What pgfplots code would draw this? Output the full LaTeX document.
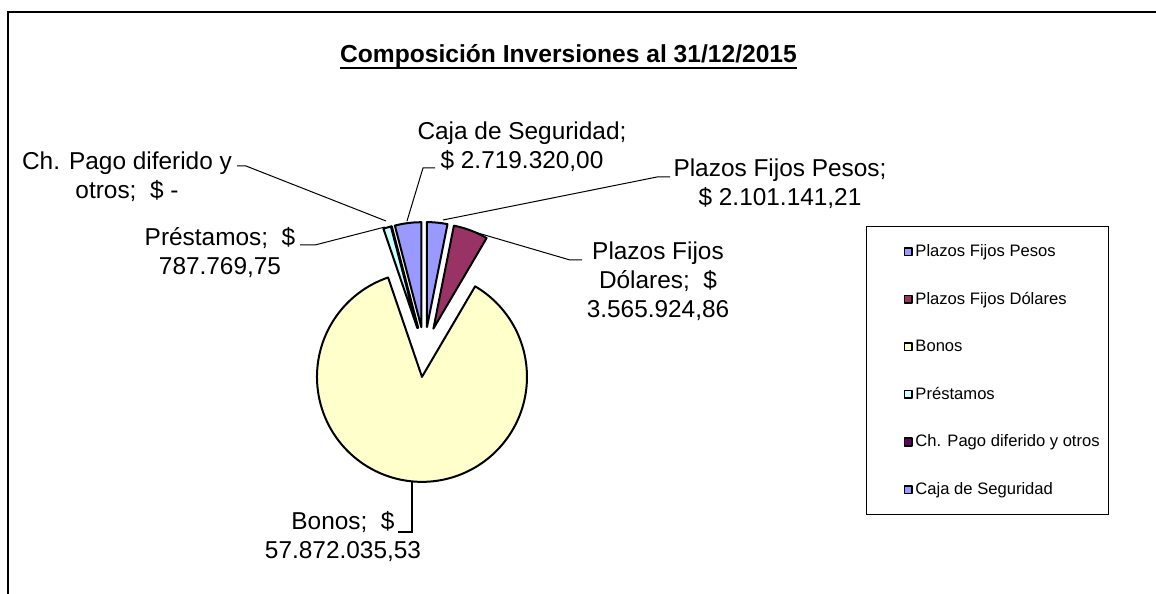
\documentclass[border=0pt]{standalone}
\usepackage{pgfplots}
\pgfplotsset{compat=1.18}
\usepackage{pgfplotstable}
\usepackage{fontspec}
\setmainfont{Liberation Sans}

\definecolor{pfp}{HTML}{9999FF}
\definecolor{pfd}{HTML}{993366}
\definecolor{bonos}{HTML}{FFFFCC}
\definecolor{prest}{HTML}{CCFFFF}
\definecolor{chp}{HTML}{660066}

% values in millions of pesos
\pgfplotstableread{
idx value
0 2.10114121
1 3.56592486
2 57.87203553
3 0.78776975
4 0
5 2.71932000
}\piedata

\newcommand\labfont{\fontsize{12.2bp}{14.5bp}\selectfont}
\newcommand\ulbox[1]{\setbox0\hbox{#1}\rlap{\rule[-3.2bp]{\wd0}{1.4bp}}\box0}

\def\R{105}
\def\D{25}
\def\CX{424.5}
\def\CY{242}

\newcommand\drawslice[3]{%
  \pgfmathsetmacro\smid{(#1+#2)/2}%
  \pgfmathsetmacro\ox{\CX+\D*cos(\smid)}%
  \pgfmathsetmacro\oy{\CY+\D*sin(\smid)}%
  \pgfmathsetmacro\lo{#2}%
  \pgfmathsetmacro\hi{#1+0.01}%
  \pgfmathtruncatemacro\ns{max(2,abs(#1-#2)/2)}%
  \edef\temp{\noexpand\addplot[draw=black, line width=1bp, line join=round, fill=#3, domain=\lo:\hi, samples=\ns]
    ({\ox+\R*cos(x)},{\oy+\R*sin(x)}) -- (axis cs:\ox,\oy) -- cycle;}%
  \temp
}

\begin{document}
\begin{tikzpicture}
\pgfplotstablegetelem{0}{value}\of\piedata \edef\vA{\pgfplotsretval}
\pgfplotstablegetelem{1}{value}\of\piedata \edef\vB{\pgfplotsretval}
\pgfplotstablegetelem{2}{value}\of\piedata \edef\vC{\pgfplotsretval}
\pgfplotstablegetelem{3}{value}\of\piedata \edef\vD{\pgfplotsretval}
\pgfplotstablegetelem{4}{value}\of\piedata \edef\vE{\pgfplotsretval}
\pgfplotstablegetelem{5}{value}\of\piedata \edef\vF{\pgfplotsretval}
\pgfmathsetmacro\T{\vA+\vB+\vC+\vD+\vE+\vF}
\pgfmathsetmacro\aA{90}
\pgfmathsetmacro\aB{\aA-(\vA/\T)*360}
\pgfmathsetmacro\aC{\aB-(\vB/\T)*360}
\pgfmathsetmacro\aD{\aC-(\vC/\T)*360}
\pgfmathsetmacro\aE{\aD-(\vD/\T)*360}
\pgfmathsetmacro\aF{\aE-(\vE/\T)*360}
\pgfmathsetmacro\aG{\aF-(\vF/\T)*360}
\begin{axis}[name=ax,
  width=578bp, height=297bp, scale only axis,
  xmin=0, xmax=1156, ymin=0, ymax=594,
  hide axis, clip=false,
  legend style={
    at={(axis cs:866,368)}, anchor=north west,
    draw=black, line width=0.6bp, fill=white,
    inner xsep=3bp, inner ysep=8.5bp,
    row sep=15.8bp,
    font=\fontsize{8.3bp}{10bp}\selectfont,
    cells={anchor=west},
    nodes={inner xsep=1.25bp, inner ysep=0pt, text height=6.5bp, text depth=1.5bp},
  },
  legend image code/.code={
    \path (-15.5bp,0bp);
    \draw[#1, draw=black, line width=0.75bp] (0bp,-1.9bp) rectangle (3.8bp,1.9bp);
  },
]
% frame
\draw[line width=0.6bp] (axis cs:8,0) -- (axis cs:8,582) -- (axis cs:1156,582);

\drawslice{\aA}{\aB}{pfp}
\addlegendentry{Plazos Fijos Pesos}
\drawslice{\aB}{\aC}{pfd}
\addlegendentry{Plazos Fijos Dólares}
\drawslice{\aC}{\aD}{bonos}
\addlegendentry{Bonos}
\drawslice{\aD}{\aE}{prest}
\addlegendentry{Préstamos}
\drawslice{\aE}{\aF}{chp}
\addlegendentry{Ch. Pago diferido y otros}
\drawslice{\aF}{\aG}{pfp}
\addlegendentry{Caja de Seguridad}

% leader lines
\draw[line width=0.5bp] (axis cs:237,428) -- (axis cs:246,428) -- (axis cs:386,373);
\draw[line width=0.5bp] (axis cs:300,349) -- (axis cs:315,349) -- (axis cs:385,367);
\draw[line width=0.5bp] (axis cs:435,426) -- (axis cs:423,426) -- (axis cs:407,373);
\draw[line width=0.5bp] (axis cs:670,417) -- (axis cs:657,417) -- (axis cs:443,374);
\draw[line width=0.5bp] (axis cs:582,334) -- (axis cs:570,334) -- (axis cs:471,363);
\draw[line width=0.9bp] (axis cs:412,112) -- (axis cs:412,62) -- (axis cs:398,62);

% title
\node[anchor=base, font=\fontsize{12.3bp}{14bp}\selectfont\bfseries] at (axis cs:568.5,531)
  {\ulbox{Composición Inversiones al 31/12/2015}};

% data labels
\node[align=center, font=\labfont] at (axis cs:522,447) {Caja de Seguridad;\\\$ 2.719.320,00};
\node[align=center, font=\labfont] at (axis cs:780,410.5) {Plazos Fijos Pesos;\\\$ 2.101.141,21};
\node[align=center, font=\labfont] at (axis cs:658,313) {Plazos Fijos\\Dólares;~~\$\\3.565.924,86};
\node[align=center, font=\labfont] at (axis cs:127,417.5) {Ch. Pago diferido y\\otros;~~\$ -};
\node[align=center, font=\labfont] at (axis cs:220,341.5) {Préstamos;~~\$\\787.769,75};
\node[align=center, font=\labfont] at (axis cs:343,57) {Bonos;~~\$\\57.872.035,53};
\end{axis}
\pgfresetboundingbox
\path (ax.south west) rectangle (ax.north east);
\end{tikzpicture}
\end{document}
